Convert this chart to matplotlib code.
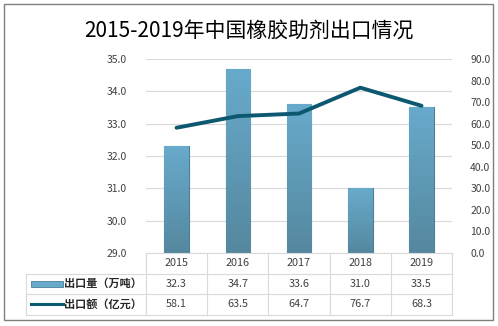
import numpy as np
import matplotlib.pyplot as plt
from matplotlib.colors import LinearSegmentedColormap
from matplotlib.lines import Line2D
from matplotlib.patches import Rectangle

plt.rcParams['font.family'] = ['Noto Sans CJK SC', 'DejaVu Sans']

# Data
YEARS = ["2015", "2016", "2017", "2018", "2019"]
VOLUME = [32.3, 34.7, 33.6, 31.0, 33.5]      # 出口量（万吨）
VALUE = [58.1, 63.5, 64.7, 76.7, 68.3]       # 出口额（亿元）
LABEL_VOLUME = "出口量（万吨）"
LABEL_VALUE = "出口额（亿元）"
TITLE = "2015-2019年中国橡胶助剂出口情况"

BAR_TOP = "#68aacb"
BAR_BOTTOM = "#55889f"
BAR_EDGE = "#4a7f96"
LINE_COLOR = "#0c5870"
GRID = "#d9d9d9"
TEXT = "#404040"

fig = plt.figure(figsize=(4.98, 3.26), dpi=100)
fig.patch.set_facecolor("white")
fig.patches.append(Rectangle((0.008, 0.018), 0.982, 0.97, transform=fig.transFigure,
                             fill=False, edgecolor="#7f7f7f", linewidth=1.0))

ax = fig.add_axes([0.293, 0.224, 0.615, 0.595])
x = np.arange(len(YEARS))

bars = ax.bar(x, VOLUME, width=0.4, color=BAR_TOP, edgecolor=BAR_EDGE, linewidth=0.8, zorder=2)
cmap = LinearSegmentedColormap.from_list("bar", [BAR_BOTTOM, BAR_TOP])
for b in bars:
    img = ax.imshow(np.linspace(0, 1, 100).reshape(-1, 1), cmap=cmap, aspect="auto",
                    extent=(b.get_x(), b.get_x() + b.get_width(), 29.0, b.get_height()),
                    origin="lower", zorder=2)
    img.set_clip_path(b)

ax.set_xlim(-0.5, len(YEARS) - 0.5)
ax.set_ylim(29.0, 35.0)
ax.set_yticks(np.arange(29.0, 35.01, 1.0))
ax.set_yticklabels([f"{v:.1f}" for v in np.arange(29.0, 35.01, 1.0)], color=TEXT, fontsize=7.5)
ax.set_xticks([])
ax.grid(axis="y", color=GRID, linewidth=0.8, zorder=0)
ax.set_axisbelow(True)
for s in ax.spines.values():
    s.set_visible(False)
ax.tick_params(axis="y", length=0, pad=14)

ax2 = ax.twinx()
ax2.plot(x, VALUE, color=LINE_COLOR, linewidth=2.8, solid_capstyle="round", zorder=3)
ax2.set_ylim(0, 90)
ax2.set_yticks(np.arange(0, 90.1, 10))
ax2.set_yticklabels([f"{v:.1f}" for v in np.arange(0, 90.1, 10)], color=TEXT, fontsize=7.5)
ax2.tick_params(axis="y", length=0, pad=13)
for s in ax2.spines.values():
    s.set_visible(False)

# Data table below the axes
row_h = 0.106
trans = ax.get_xaxis_transform()
tbl_kw = dict(color=GRID, linewidth=0.8, clip_on=False, transform=trans)
legend_left = -0.5 - 120 / 61.2
for k in range(4):
    yk = -k * row_h
    x0 = -0.5 if k == 0 else legend_left
    ax.add_line(Line2D([x0, len(YEARS) - 0.5], [yk, yk], **tbl_kw))
for i in range(len(YEARS) + 1):
    ax.add_line(Line2D([i - 0.5, i - 0.5], [0, -3 * row_h], **tbl_kw))
ax.add_line(Line2D([legend_left, legend_left], [-row_h, -3 * row_h], **tbl_kw))

for i, yr in enumerate(YEARS):
    ax.text(i, -0.5 * row_h, yr, transform=trans, ha="center", va="center", fontsize=7.8, color=TEXT)
    ax.text(i, -1.5 * row_h, f"{VOLUME[i]:.1f}", transform=trans, ha="center", va="center",
            fontsize=7.8, color=TEXT)
    ax.text(i, -2.5 * row_h, f"{VALUE[i]:.1f}", transform=trans, ha="center", va="center",
            fontsize=7.8, color=TEXT)

# legend keys in the table
key_x0 = legend_left + 0.08
key_x1 = legend_left + 0.6
ax.add_patch(Rectangle((key_x0, -1.5 * row_h - 0.015), key_x1 - key_x0, 0.03, transform=trans,
                       facecolor=BAR_TOP, edgecolor=BAR_EDGE, linewidth=0.6, clip_on=False))
ax.add_line(Line2D([key_x0, key_x1], [-2.5 * row_h, -2.5 * row_h], color=LINE_COLOR,
                   linewidth=2.2, clip_on=False, transform=trans))
ax.text(key_x1 + 0.02, -1.5 * row_h, LABEL_VOLUME, transform=trans, ha="left", va="center",
        fontsize=8, color="#262626", fontweight="bold")
ax.text(key_x1 + 0.02, -2.5 * row_h, LABEL_VALUE, transform=trans, ha="left", va="center",
        fontsize=8, color="#262626", fontweight="bold")

fig.text(0.5, 0.905, TITLE, ha="center", va="center", fontsize=15, color="black", fontweight="medium")

fig.savefig("out.png", dpi=100, facecolor="white")
